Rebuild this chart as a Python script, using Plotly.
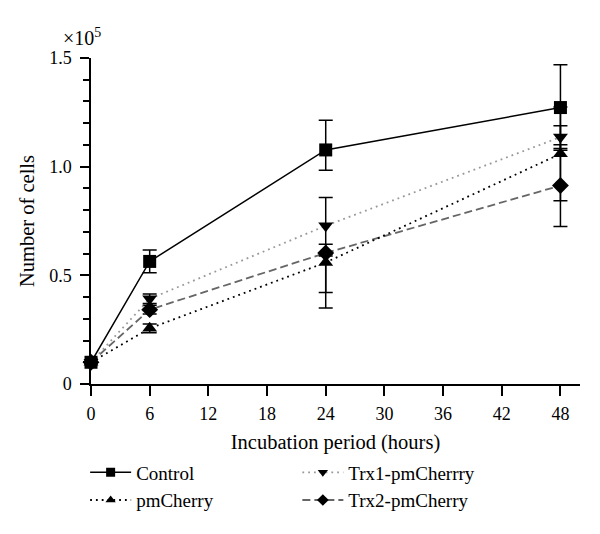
import plotly.graph_objects as go

hours = [0, 6, 24, 48]

control = [0.10, 0.564, 1.077, 1.272]
control_up = [0.0, 0.052, 0.136, 0.197]
control_dn = [0.0, 0.052, 0.094, 0.197]

pmcherry = [0.10, 0.256, 0.559, 1.059]
pmcherry_up = [0.0, 0.020, 0.030, 0.216]
pmcherry_dn = [0.0, 0.020, 0.209, 0.216]

trx1 = [0.10, 0.392, 0.728, 1.136]
trx1_up = [0.0, 0.022, 0.130, 0.052]
trx1_dn = [0.0, 0.022, 0.130, 0.052]

trx2 = [0.10, 0.342, 0.603, 0.913]
trx2_up = [0.0, 0.020, 0.040, 0.188]
trx2_dn = [0.0, 0.020, 0.182, 0.188]

x_ticks = [0, 6, 12, 18, 24, 30, 36, 42, 48]
y_ticks = [0, 0.5, 1.0, 1.5]
y_ticktext = ["0", "0.5", "1.0", "1.5"]

FONT = "Liberation Serif"

series = [
    # name, y, up, dn, line, symbol, legend, rank
    ("Trx2-pmCherry", trx2, trx2_up, trx2_dn,
     dict(color="#666666", width=1.8, dash="8px,4px"), "diamond", "legend2", 2),
    ("Trx1-pmCherrry", trx1, trx1_up, trx1_dn,
     dict(color="#999999", width=1.8, dash="1.8px,4px"), "triangle-down", "legend2", 1),
    ("pmCherry", pmcherry, pmcherry_up, pmcherry_dn,
     dict(color="black", width=1.8, dash="1.8px,4px"), "triangle-up", "legend", 2),
    ("Control", control, control_up, control_dn,
     dict(color="black", width=1.5), "square", "legend", 1),
]

fig = go.Figure()

for name, y, up, dn, line, sym, leg, rank in series:
    fig.add_trace(go.Scatter(
        x=hours, y=y, name=name, mode="lines+markers", line=line,
        marker=dict(symbol=sym, size=13, color="black"),
        error_y=dict(type="data", symmetric=False, array=up, arrayminus=dn,
                     color="black", thickness=1.5, width=7),
        showlegend=False, cliponaxis=False))
    # legend proxy entry (no data drawn), with smaller legend marker
    fig.add_trace(go.Scatter(
        x=[None], y=[None], name=name, mode="lines+markers", line=line,
        marker=dict(symbol=sym, size=9, color="black"),
        legend=leg, legendrank=rank, showlegend=True))

legend_common = dict(yanchor="top", xanchor="left",
                     font=dict(family=FONT, size=19), bgcolor="rgba(0,0,0,0)",
                     tracegroupgap=0, itemwidth=41)

fig.update_layout(
    width=584, height=518,
    margin=dict(l=83.3, r=12.3, t=50.3, b=141.7, autoexpand=False),
    paper_bgcolor="white", plot_bgcolor="white",
    font=dict(family=FONT, size=18, color="black"),
    showlegend=True,
    legend=dict(x=-0.012, y=-0.213, **legend_common),
    legend2=dict(x=0.422, y=-0.213, **legend_common),
    annotations=[dict(text="×10<sup>5</sup>", xref="paper", yref="paper",
                      x=-0.062, y=1.022, xanchor="left", yanchor="bottom",
                      showarrow=False, font=dict(family=FONT, size=20))],
)

fig.update_xaxes(
    range=[0, 50], tickmode="array", tickvals=x_ticks, automargin=False,
    showline=True, linecolor="black", linewidth=1.5,
    ticks="outside", ticklen=10, tickwidth=1.5, tickcolor="black",
    ticklabelstandoff=3,
    showgrid=False, zeroline=False,
    title=dict(text="Incubation period (hours)", font=dict(family=FONT, size=20.5), standoff=11),
)
fig.update_yaxes(
    range=[0, 1.5], tickmode="array", tickvals=y_ticks, ticktext=y_ticktext, automargin=False,
    showline=True, linecolor="black", linewidth=1.5,
    ticks="outside", ticklen=9, tickwidth=1.5, tickcolor="black",
    ticklabelstandoff=5,
    minor=dict(dtick=0.1, tick0=0, ticks="outside", ticklen=6, tickwidth=1.5, tickcolor="black", showgrid=False),
    showgrid=False, zeroline=False,
    title=dict(text="Number of cells", font=dict(family=FONT, size=20.5), standoff=9),
)

fig.write_html("out.html")
